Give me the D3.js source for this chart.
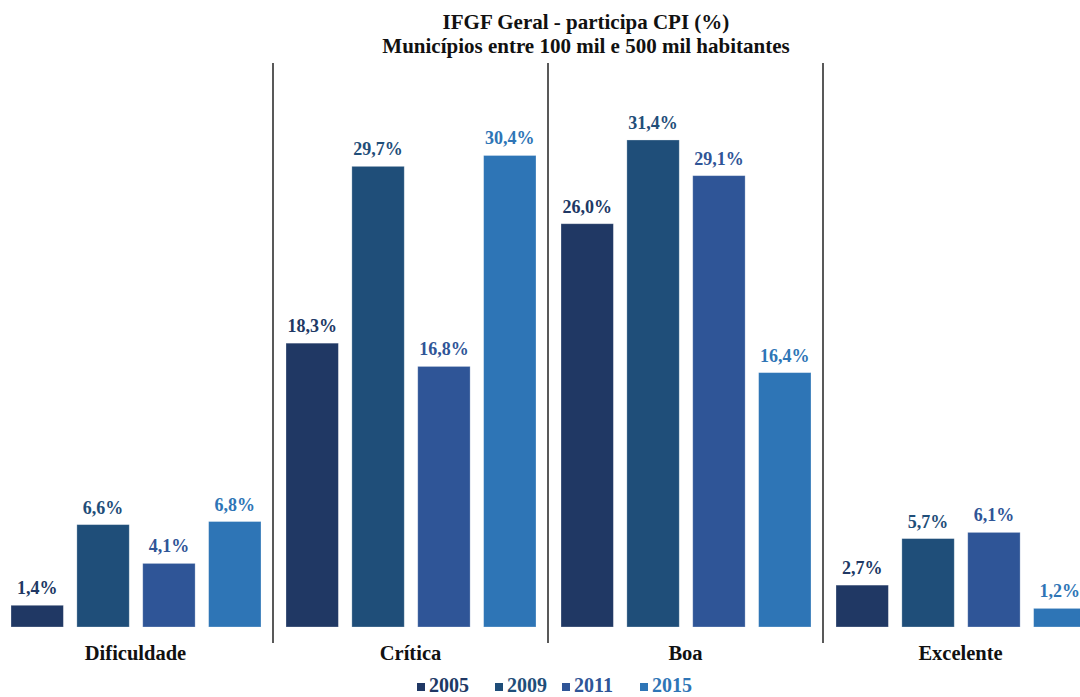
<!DOCTYPE html>
<html>
<head>
<meta charset="utf-8">
<script src="https://cdn.jsdelivr.net/npm/d3@7"></script>
<style>
  html, body { margin: 0; padding: 0; background: #ffffff; }
  svg { display: block; }
</style>
</head>
<body>
<svg id="chart" width="1080" height="697"></svg>
<script>
// Share of municipalities (100k–500k inhabitants) per IFGF class, by year
const categories = ["Dificuldade", "Crítica", "Boa", "Excelente"];
const years = ["2005", "2009", "2011", "2015"];
const values2005 = [1.4, 18.3, 26.0, 2.7];
const values2009 = [6.6, 29.7, 31.4, 5.7];
const values2011 = [4.1, 16.8, 29.1, 6.1];
const values2015 = [6.8, 30.4, 16.4, 1.2];
const seriesValues = [values2005, values2009, values2011, values2015];
const colors = ["#203864", "#1f4e79", "#2f5597", "#2e75b6"];

const svg = d3.select("#chart");
const W = 1080, H = 697;
const serif = "'Liberation Serif', 'Times New Roman', serif";

const baseY = 627;
const x0 = d3.scaleBand().domain(categories).range([-2, 1098]).paddingInner(0).paddingOuter(0);
const x1 = d3.scaleBand().domain(years).range([13, x0.bandwidth() - 12]).paddingInner(0.205).paddingOuter(0);
const y = d3.scaleLinear().domain([0, 35]).range([baseY, baseY - 35 * 15.51]);

const rows = [];
categories.forEach((c, i) => {
  years.forEach((yr, j) => rows.push({ cat: c, year: yr, value: seriesValues[j][i], color: colors[j] }));
});

// Title, centred over the whole plotting band
const titleX = 586;
svg.append("text").attr("x", titleX).attr("y", 29).attr("text-anchor", "middle")
  .attr("font-family", serif).attr("font-weight", "bold").attr("font-size", 21).attr("fill", "#111")
  .text("IFGF Geral - participa CPI (%)");
svg.append("text").attr("x", titleX).attr("y", 53).attr("text-anchor", "middle")
  .attr("font-family", serif).attr("font-weight", "bold").attr("font-size", 21).attr("fill", "#111")
  .text("Municípios entre 100 mil e 500 mil habitantes");

// Separators between classes
svg.selectAll("line.sep").data(categories.slice(1)).enter().append("line")
  .attr("class", "sep")
  .attr("x1", d => x0(d)).attr("x2", d => x0(d))
  .attr("y1", 63).attr("y2", 643)
  .attr("stroke", "#222").attr("stroke-width", 1.5);

// Bars
const g = svg.append("g");
g.selectAll("rect").data(rows).enter().append("rect")
  .attr("x", d => x0(d.cat) + x1(d.year))
  .attr("y", d => y(d.value))
  .attr("width", x1.bandwidth())
  .attr("height", d => baseY - y(d.value))
  .attr("fill", d => d.color)
  .attr("stroke", "#ffffff").attr("stroke-opacity", 0.35).attr("stroke-width", 0.8);

// Value labels
const fmt = v => v.toFixed(1).replace(".", ",") + "%";
g.selectAll("text.val").data(rows).enter().append("text")
  .attr("class", "val")
  .attr("x", d => x0(d.cat) + x1(d.year) + x1.bandwidth() / 2)
  .attr("y", d => y(d.value) - 11)
  .attr("text-anchor", "middle")
  .attr("font-family", serif).attr("font-weight", "bold").attr("font-size", 18)
  .attr("fill", d => d.color)
  .text(d => fmt(d.value));

// Category axis labels
const xAxis = d3.axisBottom(x0).tickSize(0).tickPadding(0);
const axisG = svg.append("g").attr("transform", `translate(0, ${baseY})`).call(xAxis);
axisG.select(".domain").remove();
axisG.selectAll("text")
  .attr("dy", 0).attr("y", 33)
  .attr("font-family", serif).attr("font-weight", "bold").attr("font-size", 20.5).attr("fill", "#111");

// Legend
const legendX = [417, 495, 562, 640];
const lg = svg.append("g");
years.forEach((yr, j) => {
  lg.append("rect").attr("x", legendX[j]).attr("y", 683).attr("width", 8).attr("height", 8).attr("fill", colors[j]);
  lg.append("text").attr("x", legendX[j] + 12).attr("y", 692)
    .attr("font-family", serif).attr("font-weight", "bold").attr("font-size", 20).attr("fill", colors[j])
    .text(yr);
});
</script>
</body>
</html>
